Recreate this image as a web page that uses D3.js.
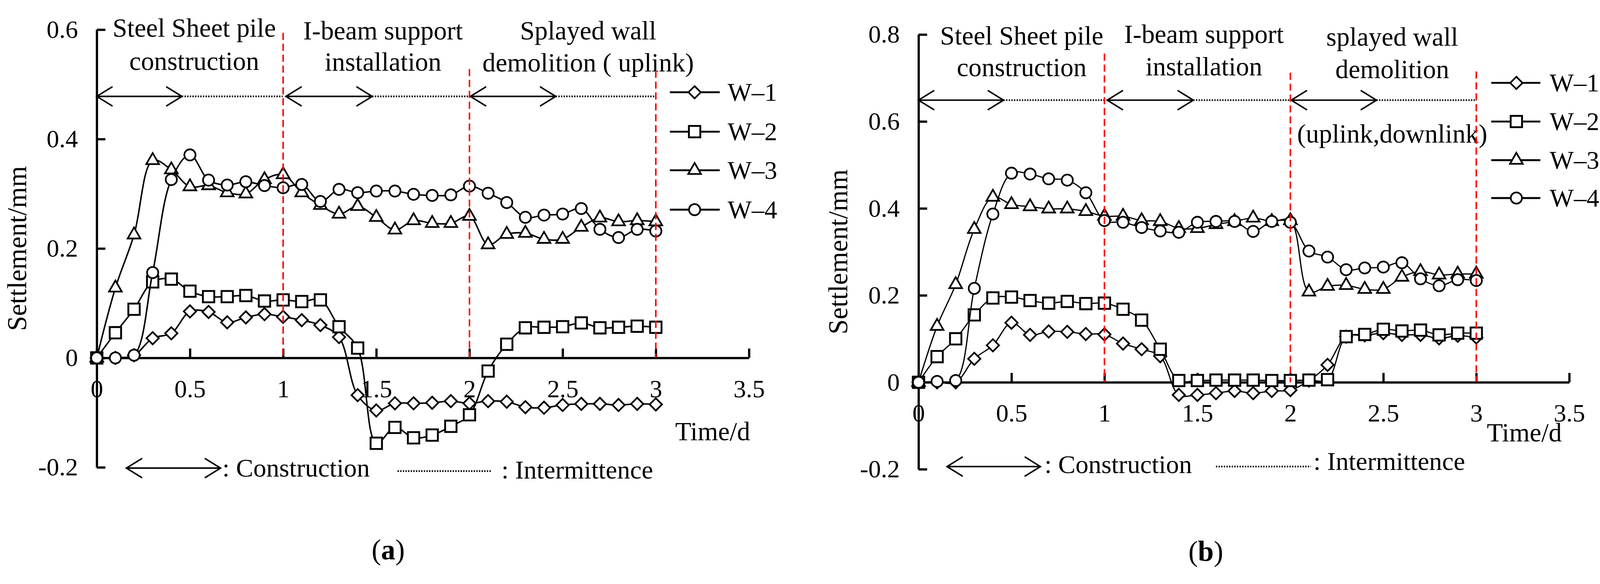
<!DOCTYPE html>
<html lang="en">
<head>
<meta charset="utf-8">
<title>Settlement of W-1 to W-4</title>
<script src="https://cdn.jsdelivr.net/npm/d3@7"></script>
<style>
html, body { margin: 0; padding: 0; background: #fff; overflow: hidden; }
#chart { display: block; width: 100vw; height: 100vh; }
svg text { font-family: "Liberation Serif", "Times New Roman", serif; fill: #000; }
.axis path, .axis line { stroke: #000; stroke-width: 6; }
.axis text { font-size: 67px; font-family: "Liberation Serif", serif; fill: #000; }
</style>
</head>
<body>
<svg id="chart" viewBox="0 0 4266 1495" preserveAspectRatio="xMidYMid meet"></svg>
<script>

// time (d)
var time = [0, 0.1, 0.2, 0.3, 0.4, 0.5, 0.6, 0.7, 0.8, 0.9, 1.0, 1.1, 1.2, 1.3, 1.4, 1.5,
            1.6, 1.7, 1.8, 1.9, 2.0, 2.1, 2.2, 2.3, 2.4, 2.5, 2.6, 2.7, 2.8, 2.9, 3.0];

var seriesNames = ["W\u20131", "W\u20132", "W\u20133", "W\u20134"];

// panel (a) settlement, mm
var w1a = [0, 0, 0.005, 0.036, 0.045, 0.085, 0.084, 0.065, 0.074, 0.080, 0.075, 0.069, 0.060, 0.038, -0.068, -0.096,
           -0.083, -0.083, -0.082, -0.079, -0.083, -0.079, -0.080, -0.090, -0.091, -0.086, -0.084, -0.084, -0.086, -0.084, -0.085];
var w2a = [0, 0.046, 0.089, 0.139, 0.144, 0.122, 0.112, 0.112, 0.114, 0.104, 0.106, 0.103, 0.106, 0.057, 0.018, -0.156,
           -0.127, -0.146, -0.141, -0.125, -0.104, -0.024, 0.025, 0.055, 0.056, 0.057, 0.064, 0.055, 0.056, 0.058, 0.056];
var w3a = [0, 0.128, 0.225, 0.361, 0.344, 0.313, 0.315, 0.302, 0.300, 0.326, 0.335, 0.302, 0.279, 0.263, 0.277, 0.257,
           0.234, 0.251, 0.246, 0.246, 0.259, 0.207, 0.226, 0.228, 0.217, 0.217, 0.239, 0.256, 0.249, 0.251, 0.249];
var w4a = [0, 0, 0.005, 0.156, 0.326, 0.371, 0.325, 0.316, 0.322, 0.315, 0.311, 0.317, 0.286, 0.308, 0.302, 0.305,
           0.305, 0.299, 0.297, 0.298, 0.314, 0.301, 0.284, 0.257, 0.261, 0.263, 0.273, 0.235, 0.220, 0.235, 0.232];

// panel (b) settlement, mm
var w1b = [0, 0, 0, 0.054, 0.085, 0.137, 0.109, 0.117, 0.116, 0.111, 0.110, 0.089, 0.076, 0.060, -0.029, -0.029,
           -0.025, -0.020, -0.025, -0.020, -0.018, 0.004, 0.040, 0.105, 0.108, 0.113, 0.109, 0.109, 0.101, 0.107, 0.103];
var w2b = [0, 0.059, 0.100, 0.155, 0.194, 0.196, 0.188, 0.182, 0.186, 0.181, 0.182, 0.168, 0.143, 0.076, 0.004, 0.004,
           0.005, 0.005, 0.005, 0.004, 0.004, 0.005, 0.006, 0.105, 0.110, 0.122, 0.118, 0.120, 0.109, 0.113, 0.113];
var w3b = [0, 0.129, 0.225, 0.352, 0.426, 0.409, 0.404, 0.399, 0.399, 0.393, 0.382, 0.382, 0.372, 0.370, 0.354, 0.354,
           0.363, 0.370, 0.378, 0.370, 0.372, 0.208, 0.221, 0.223, 0.214, 0.214, 0.242, 0.255, 0.247, 0.249, 0.249];
var w4b = [0, 0.002, 0.004, 0.216, 0.387, 0.481, 0.479, 0.468, 0.465, 0.436, 0.372, 0.368, 0.356, 0.348, 0.345, 0.368,
           0.370, 0.370, 0.347, 0.370, 0.368, 0.302, 0.288, 0.259, 0.263, 0.265, 0.275, 0.238, 0.222, 0.236, 0.234];

// ticks
var xTicks = [0, 0.5, 1, 1.5, 2, 2.5, 3, 3.5];
var yTicksA = [-0.2, 0, 0.2, 0.4, 0.6];
var yTicksB = [-0.2, 0, 0.2, 0.4, 0.6, 0.8];

// construction stages: start, end of construction, end of stage (d)
var stageStart = [0, 1.015, 2.005];
var stageBuildEnd = [0.457, 1.478, 2.463];
var stageEnd = [0.997, 2.005, 3.0];
var stageLines = [1, 2, 3];

var stageTitlesA = [["Steel Sheet pile", "construction"],
                    ["I-beam support", "installation"],
                    ["Splayed wall", "demolition ( uplink)"]];
var stageTitlesB = [["Steel Sheet pile", "construction"],
                    ["I-beam support", "installation"],
                    ["splayed wall", "demolition", "(uplink,downlink)"]];

var svg = d3.select("#chart");

svg.append("rect").attr("width", 4266).attr("height", 1495).attr("fill", "#fff");

// marker shapes
var symbols = [
    d3.symbol().type(d3.symbolSquare).size(540),
    d3.symbol().type(d3.symbolSquare).size(920),
    d3.symbol().type(d3.symbolTriangle).size(500),
    d3.symbol().type(d3.symbolCircle).size(700)
];
var symbolRotate = [45, 0, 0, 0];
var symbolStroke = [4.5, 5, 4.5, 4.5];

// open double arrow
function drawArrow(g, xa, xb, yy) {
    g.append("line")
        .attr("x1", xa).attr("x2", xb).attr("y1", yy).attr("y2", yy)
        .attr("stroke", "#000").attr("stroke-width", 4);
    g.append("path")
        .attr("d", "M" + (xa + 42) + "," + (yy - 26) + "L" + xa + "," + yy + "L" + (xa + 42) + "," + (yy + 26))
        .attr("fill", "none").attr("stroke", "#000").attr("stroke-width", 4);
    g.append("path")
        .attr("d", "M" + (xb - 42) + "," + (yy - 26) + "L" + xb + "," + yy + "L" + (xb - 42) + "," + (yy + 26))
        .attr("fill", "none").attr("stroke", "#000").attr("stroke-width", 4);
}

function drawDots(g, xa, xb, yy) {
    g.append("line")
        .attr("x1", xa).attr("x2", xb).attr("y1", yy).attr("y2", yy)
        .attr("stroke", "#000").attr("stroke-width", 4.5)
        .attr("stroke-dasharray", "3.5,3.5");
}

function drawPanel(p) {
    var g = svg.append("g");

    var x = d3.scaleLinear().domain([0, 3.5]).range([p.x0, p.x1]);
    var y = d3.scaleLinear().domain([-0.2, p.ymax]).range([p.yBot, p.yTop]);

    // y axis
    g.append("g")
        .attr("class", "axis")
        .attr("transform", "translate(" + p.x0 + ",0)")
        .call(d3.axisLeft(y).tickValues(p.yTicks).tickSizeInner(-23).tickSizeOuter(0)
            .tickPadding(50).tickFormat(function(d) { return String(d); }));

    // x axis on the zero line
    g.append("g")
        .attr("class", "axis")
        .attr("transform", "translate(0," + y(0) + ")")
        .call(d3.axisBottom(x).tickValues(xTicks).tickSizeInner(-25).tickSizeOuter(0)
            .tickPadding(57).tickFormat(function(d) { return String(d); }));

    // axis titles
    g.append("text")
        .attr("transform", "translate(" + p.yLabelX + "," + y((p.ymax - 0.2) / 2) + ") rotate(-90)")
        .attr("text-anchor", "middle")
        .style("font-size", "72px")
        .text("Settlement/mm");

    g.append("text")
        .attr("x", p.timeLabel[0]).attr("y", p.timeLabel[1])
        .attr("text-anchor", "end")
        .style("font-size", "70px")
        .text("Time/d");

    // series
    var line = d3.line()
        .x(function(d) { return x(d.t); })
        .y(function(d) { return y(d.v); })
        .curve(d3.curveCatmullRom.alpha(0.5));

    p.series.forEach(function(vals, i) {
        var pts = time.map(function(t, k) { return {t: t, v: vals[k]}; });
        var sg = g.append("g");
        sg.append("path")
            .datum(pts)
            .attr("d", line)
            .attr("fill", "none")
            .attr("stroke", "#000")
            .attr("stroke-width", p.lineWidth);
        sg.selectAll(".mk")
            .data(pts)
            .enter()
            .append("path")
            .attr("class", "mk")
            .attr("d", symbols[i])
            .attr("transform", function(d) {
                return "translate(" + x(d.t) + "," + y(d.v) + ") rotate(" + symbolRotate[i] + ")";
            })
            .attr("fill", "#fff")
            .attr("stroke", "#000")
            .attr("stroke-width", symbolStroke[i]);
    });

    // stage arrows and titles
    var ay = y(p.arrowV);
    stageStart.forEach(function(s, i) {
        drawArrow(g, x(s), x(stageBuildEnd[i]), ay);
        drawDots(g, x(stageBuildEnd[i]), x(stageEnd[i]), ay);
        p.titles[i].forEach(function(txt, j) {
            g.append("text")
                .attr("x", x(p.titleT[i]))
                .attr("y", p.titleY[i][j])
                .attr("text-anchor", "middle")
                .style("font-size", "70px")
                .text(txt);
        });
    });

    // stage boundaries
    stageLines.forEach(function(b, i) {
        g.append("line")
            .attr("x1", x(b)).attr("x2", x(b))
            .attr("y1", y(p.redTops[i])).attr("y2", y(0))
            .attr("stroke", "#ff0000")
            .attr("stroke-width", 4)
            .attr("stroke-dasharray", "19,10");
    });

    // series legend
    seriesNames.forEach(function(name, i) {
        var ly = p.legendY[i];
        g.append("line")
            .attr("x1", p.legendX[0]).attr("x2", p.legendX[1])
            .attr("y1", ly).attr("y2", ly)
            .attr("stroke", "#000").attr("stroke-width", 5);
        g.append("path")
            .attr("d", symbols[i])
            .attr("transform", "translate(" + p.legendX[2] + "," + ly + ") rotate(" + symbolRotate[i] + ")")
            .attr("fill", "#fff").attr("stroke", "#000").attr("stroke-width", symbolStroke[i]);
        g.append("text")
            .attr("x", p.legendX[3]).attr("y", ly)
            .attr("dy", "0.34em")
            .style("font-size", "68px")
            .text(name);
    });

    // construction / intermittence key
    drawArrow(g, p.keyArrow[0], p.keyArrow[1], p.keyArrow[2]);
    g.append("text")
        .attr("x", p.keyText1[0]).attr("y", p.keyText1[1])
        .style("font-size", "69px")
        .text(": Construction");
    drawDots(g, p.keyDots[0], p.keyDots[1], p.keyDots[2]);
    g.append("text")
        .attr("x", p.keyText2[0]).attr("y", p.keyText2[1])
        .style("font-size", "69px")
        .text(": Intermittence");

    // panel label
    var lab = g.append("text")
        .attr("x", p.label[1]).attr("y", p.label[2])
        .attr("text-anchor", "middle")
        .style("font-size", "76px");
    lab.append("tspan").text("(");
    lab.append("tspan").style("font-weight", "bold").text(p.label[0]);
    lab.append("tspan").text(")");
}

drawPanel({
    x0: 258, x1: 1997, yTop: 48, yBot: 1215, ymax: 0.6, yTicks: yTicksA,
    series: [w1a, w2a, w3a, w4a], lineWidth: 4,
    arrowV: 0.478, redTops: [0.594, 0.528, 0.525],
    titles: stageTitlesA, titleT: [0.523, 1.536, 2.637], titleY: [[67, 155], [74, 157], [74, 160]],
    legendY: [215, 320, 423, 528], legendX: [1786, 1919, 1852, 1940],
    timeLabel: [2000, 1143], yLabelX: 70,
    keyArrow: [337, 588, 1217], keyText1: [593, 1240],
    keyDots: [1060, 1309, 1225], keyText2: [1337, 1245],
    label: ["a", 1035, 1460]
});

drawPanel({
    x0: 2449, x1: 4184, yTop: 61, yBot: 1220, ymax: 0.8, yTicks: yTicksB,
    series: [w1b, w2b, w3b, w4b], lineWidth: 3.3,
    arrowV: 0.649, redTops: [0.756, 0.712, 0.715],
    titles: stageTitlesB, titleT: [0.555, 1.535, 2.548], titleY: [[88, 172], [84, 170], [91, 177, 349]],
    legendY: [190, 293, 396, 497], legendX: [3976, 4107, 4043, 4132],
    timeLabel: [4164, 1146], yLabelX: 2259,
    keyArrow: [2525, 2774, 1213], keyText1: [2785, 1230],
    keyDots: [3242, 3495, 1213], keyText2: [3502, 1222],
    label: ["b", 3215, 1465]
});

</script>
</body>
</html>
